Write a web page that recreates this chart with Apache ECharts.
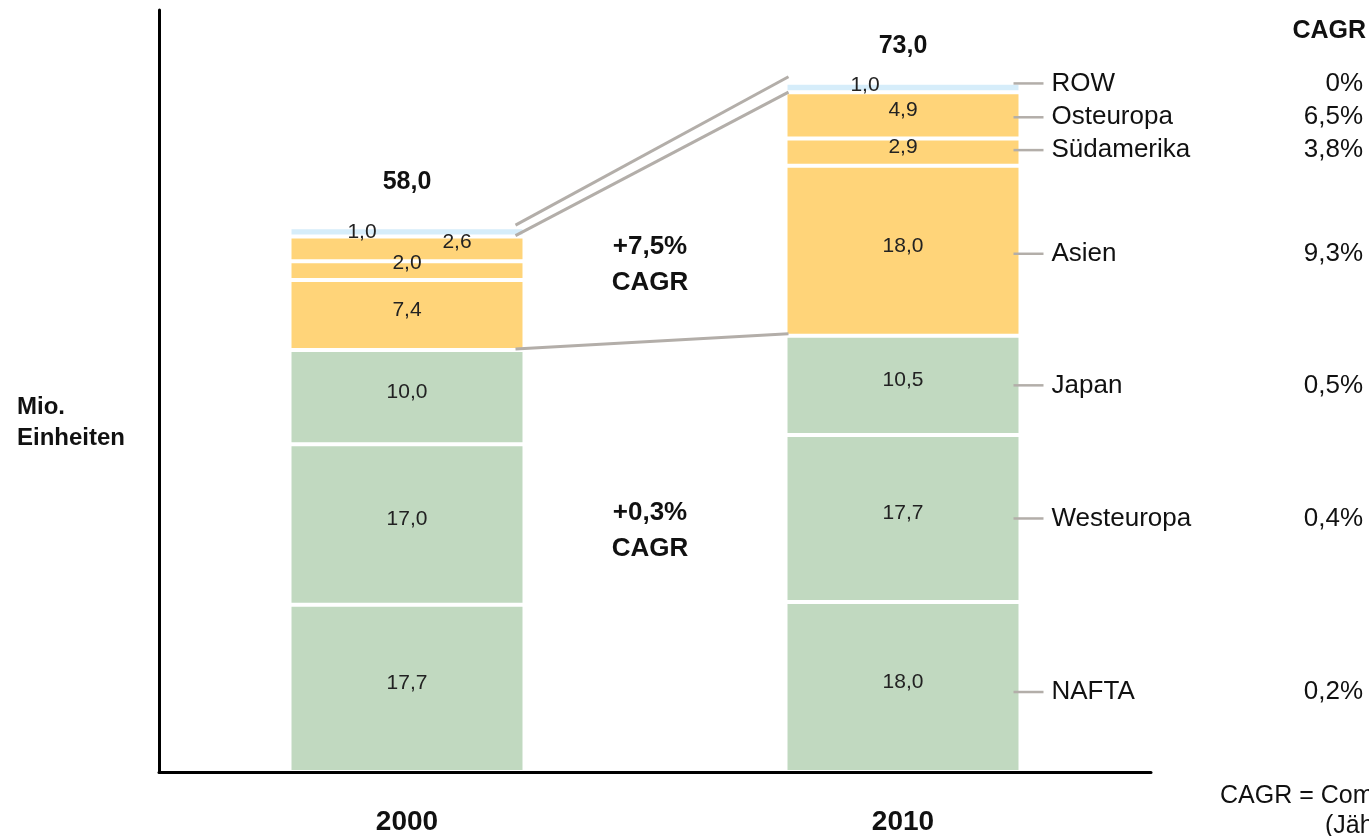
<!DOCTYPE html>
<html>
<head>
<meta charset="utf-8">
<script src="https://cdn.jsdelivr.net/npm/echarts@6/dist/echarts.min.js"></script>
<style>html,body{margin:0;padding:0;background:#fff}#c{width:1369px;height:836px}</style>
</head>
<body>
<div id="c"></div>
<script>
const years = ['2000', '2010'];
const regions = ['NAFTA', 'Westeuropa', 'Japan', 'Asien', 'Südamerika', 'Osteuropa', 'ROW'];
const values2000 = [17.7, 17.0, 10.0, 7.4, 2.0, 2.6, 1.0];
const values2010 = [18.0, 17.7, 10.5, 18.0, 2.9, 4.9, 1.0];
const totals = [58.0, 73.0];
const regionCagr = ['0,2%', '0,4%', '0,5%', '9,3%', '3,8%', '6,5%', '0%'];
const groupCagr = ['+0,3%', '+7,5%'];

const FONT = '"Liberation Sans", Arial, sans-serif';
const GREEN = '#c1d9c0', ORANGE = '#ffd479', BLUE = '#d6edfa', GRAY = '#b3aea9';
const colors = [GREEN, GREEN, GREEN, ORANGE, ORANGE, ORANGE, BLUE];
const fmt = v => v.toFixed(1).replace('.', ',');

// label offsets for the thin segments (bar index, region index)
function labelOffset(yi, ri) {
  if (yi === 0 && ri === 6) return [-45, 0];
  if (yi === 0 && ri === 5) return [50, -7];
  if (yi === 0 && ri === 4) return [0, -7];
  if (yi === 1 && ri === 6) return [-38, -2];
  return [0, -5];
}

const series = regions.map((name, ri) => ({
  name, type: 'bar', stack: 'total', barWidth: 235,
  itemStyle: { color: colors[ri], borderColor: '#fff', borderWidth: 2 },
  label: {
    show: true, position: 'inside', color: '#222', fontSize: 21, fontFamily: FONT,
    formatter: p => fmt(p.value)
  },
  data: [values2000[ri], values2010[ri]].map((v, yi) => ({ value: v, label: { offset: labelOffset(yi, ri) } }))
}));

const chart = echarts.init(document.getElementById('c'));
chart.setOption({
  animation: false,
  backgroundColor: '#fff',
  grid: { left: 159, right: 218, top: 10, bottom: 63 },
  xAxis: {
    type: 'category', data: years, z: 10,
    axisLine: { lineStyle: { color: '#000', width: 3 } },
    axisTick: { show: false },
    axisLabel: { fontSize: 28, fontWeight: 'bold', color: '#111', fontFamily: FONT, margin: 36 }
  },
  yAxis: {
    type: 'value', min: 0, max: 80.7, z: 10,
    axisLine: { show: true, lineStyle: { color: '#000', width: 3 } },
    axisTick: { show: false }, axisLabel: { show: false }, splitLine: { show: false }
  },
  series
});

// Build annotations from the data through the axes
const px = (yi, v) => chart.convertToPixel({ xAxisIndex: 0, yAxisIndex: 0 }, [years[yi], v]);
const halfBar = 231 / 2;
const cum = arr => { let s = 0; return arr.map(v => (s += v)); };
const c2000 = cum(values2000), c2010 = cum(values2010);
const g = [];
const txt = (x, y, text, font, align) => g.push({ type: 'text', z: 100, x, y,
  style: { text, font: font + ' ' + FONT, fill: '#111', align: align || 'center', verticalAlign: 'middle' } });

// totals on top
const totalOffsets = [-45, -37];
totals.forEach((t, yi) => {
  const top = px(yi, yi === 0 ? c2000[6] : c2010[6]);
  txt(top[0], top[1] + totalOffsets[yi], fmt(t), 'bold 25px');
});

// connecting lines between bars
function connect(level2000, level2010, dy0, dy1) {
  const a = px(0, level2000), b = px(1, level2010);
  g.push({ type: 'line', z: 100, shape: { x1: a[0] + halfBar - 7, y1: a[1] + dy0, x2: b[0] - halfBar + 1, y2: b[1] + dy1 },
    style: { stroke: GRAY, lineWidth: 3 } });
}
connect(c2000[6], c2010[6], -2, -6);
connect(c2000[5], c2010[5], -1, 0);
connect(c2000[2], c2010[2], -1, -2);

// group CAGR annotations
const midX = (px(0, 0)[0] + px(1, 0)[0]) / 2 - 5;
[[groupCagr[1], 247], [groupCagr[0], 513]].forEach(([t, y]) => {
  txt(midX, y, t, 'bold 26px');
  txt(midX, y + 36, 'CAGR', 'bold 26px');
});

// right-side region labels and CAGR column
const nudge = [5, 0, 0, 3, -2, 2, -4];
regions.forEach((name, ri) => {
  const mid = px(1, c2010[ri] - values2010[ri] / 2);
  const y = mid[1] + nudge[ri];
  const xr = mid[0] + halfBar;
  g.push({ type: 'line', z: 100, shape: { x1: xr - 5, y1: y, x2: xr + 25, y2: y }, style: { stroke: GRAY, lineWidth: 2.5 } });
  txt(xr + 33, y, name, '26px', 'left');
  txt(1363, y, regionCagr[ri], '26px', 'right');
});
txt(1366, 31, 'CAGR', 'bold 25px', 'right');

// y axis title
txt(17, 407, 'Mio.', 'bold 24px', 'left');
txt(17, 438, 'Einheiten', 'bold 24px', 'left');

// footnote (cut off at the right edge as in the original)
txt(1220, 796, 'CAGR = Compound Annual Growth Rate', '25px', 'left');
txt(1325, 826, '(Jährliche Wachstumsrate)', '25px', 'left');

chart.setOption({ graphic: { elements: g } });
</script>
</body>
</html>
